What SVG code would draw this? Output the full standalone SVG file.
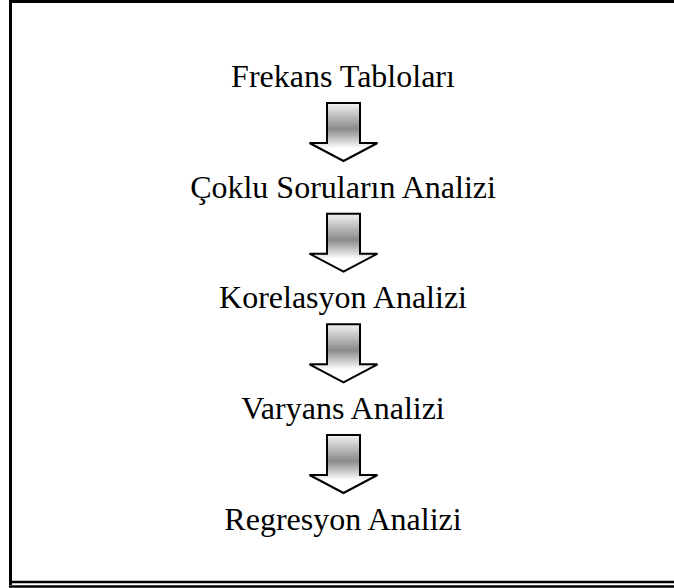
<svg xmlns="http://www.w3.org/2000/svg" width="674" height="588" viewBox="0 0 674 588">
  <defs>
    <linearGradient id="shade" x1="0" y1="0" x2="0" y2="1">
      <stop offset="0" stop-color="#f2f2f2"/>
      <stop offset="0.45" stop-color="#8a8a8a"/>
      <stop offset="0.78" stop-color="#ffffff"/>
      <stop offset="1" stop-color="#ffffff"/>
    </linearGradient>
    <!-- block arrow pointing down, origin at top-centre of the shaft -->
    <path id="down" d="M-16.5,0 H16.5 V40 H34 L0,58 L-34,40 H-16.5 Z"/>
    <style>
      .lbl { font-family: "Liberation Serif", "Times New Roman", serif; font-size: 32px; fill: #000; text-anchor: middle; }
      .arrow { fill: url(#shade); stroke: #000; stroke-width: 2; stroke-linejoin: miter; }
      .frame { stroke: #000; fill: none; }
    </style>
  </defs>

  <rect width="674" height="588" fill="#fff"/>

  <!-- page frame: heavy left and top rules, double rule at the bottom -->
  <g id="frame">
    <line class="frame" x1="10.5" y1="0" x2="10.5" y2="585" stroke-width="3"/>
    <line class="frame" x1="9" y1="1.5" x2="674" y2="1.5" stroke-width="3"/>
    <line class="frame" x1="12" y1="582" x2="674" y2="582" stroke-width="2.5"/>
    <line class="frame" x1="9" y1="586.5" x2="674" y2="586.5" stroke-width="2.5"/>
  </g>

  <g id="connectors">
    <use href="#down" class="arrow" x="343.5" y="103"/>
    <use href="#down" class="arrow" x="343.5" y="213.7"/>
    <use href="#down" class="arrow" x="343.5" y="324.3"/>
    <use href="#down" class="arrow" x="343.5" y="435"/>
  </g>

  <g id="frekans"><text class="lbl" x="343" y="87">Frekans Tabloları</text></g>
  <g id="coklu"><text class="lbl" x="343" y="197.7">Çoklu Soruların Analizi</text></g>
  <g id="korelasyon"><text class="lbl" x="343" y="308.3">Korelasyon Analizi</text></g>
  <g id="varyans"><text class="lbl" x="343" y="419">Varyans Analizi</text></g>
  <g id="regresyon"><text class="lbl" x="343" y="529.7">Regresyon Analizi</text></g>
</svg>
